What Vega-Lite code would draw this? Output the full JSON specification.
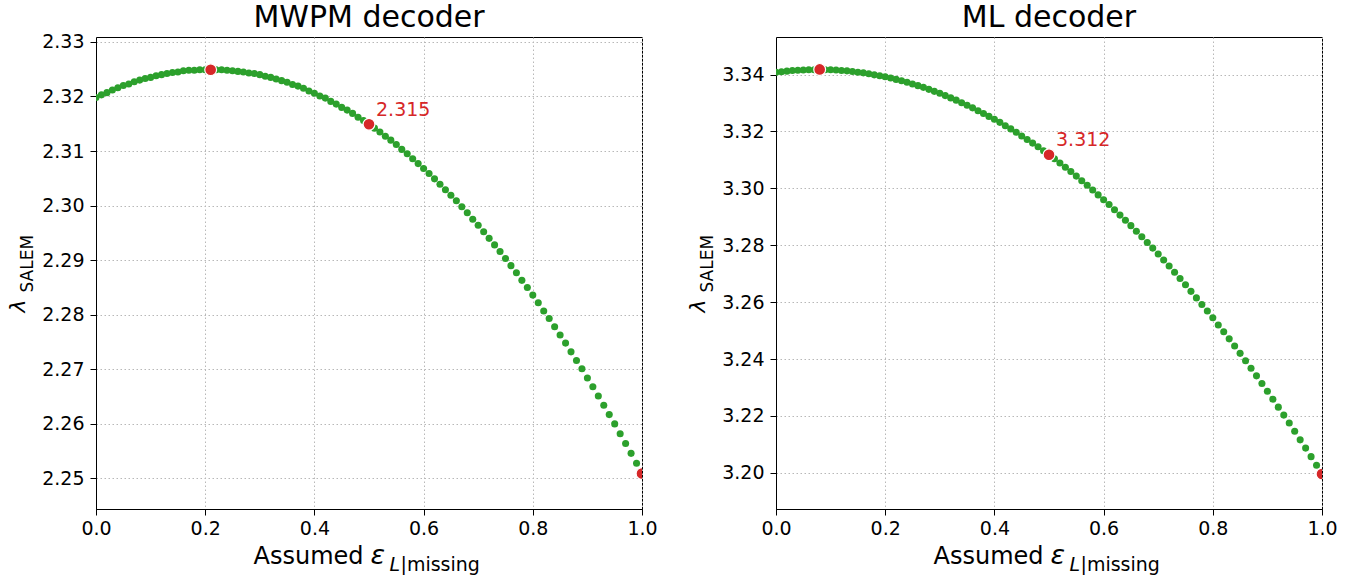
{
  "$schema": "https://vega.github.io/schema/vega-lite/v6.json",
  "padding": {"left": 5, "top": 2, "right": 5, "bottom": 0},
  "spacing": 27,
  "background": "white",
  "datasets": {
    "mwpm": [
      {"e":0,"l":2.3198},{"e":0.01,"l":2.3203},{"e":0.02,"l":2.3207},{"e":0.03,"l":2.3212},{"e":0.04,"l":2.3216},{"e":0.05,"l":2.322},{"e":0.06,"l":2.3223},{"e":0.07,"l":2.3227},{"e":0.08,"l":2.323},{"e":0.09,"l":2.3233},
      {"e":0.1,"l":2.3235},{"e":0.11,"l":2.3238},{"e":0.12,"l":2.324},{"e":0.13,"l":2.3242},{"e":0.14,"l":2.3244},{"e":0.15,"l":2.3245},{"e":0.16,"l":2.3247},{"e":0.17,"l":2.3248},{"e":0.18,"l":2.3248},{"e":0.19,"l":2.3249},
      {"e":0.2,"l":2.3249},{"e":0.21,"l":2.3249},{"e":0.22,"l":2.3249},{"e":0.23,"l":2.3249},{"e":0.24,"l":2.3248},{"e":0.25,"l":2.3247},{"e":0.26,"l":2.3246},{"e":0.27,"l":2.3245},{"e":0.28,"l":2.3243},{"e":0.29,"l":2.3242},
      {"e":0.3,"l":2.324},{"e":0.31,"l":2.3237},{"e":0.32,"l":2.3235},{"e":0.33,"l":2.3232},{"e":0.34,"l":2.3229},{"e":0.35,"l":2.3226},{"e":0.36,"l":2.3222},{"e":0.37,"l":2.3219},{"e":0.38,"l":2.3215},{"e":0.39,"l":2.321},
      {"e":0.4,"l":2.3206},{"e":0.41,"l":2.3201},{"e":0.42,"l":2.3197},{"e":0.43,"l":2.3191},{"e":0.44,"l":2.3186},{"e":0.45,"l":2.318},{"e":0.46,"l":2.3175},{"e":0.47,"l":2.3169},{"e":0.48,"l":2.3162},{"e":0.49,"l":2.3156},
      {"e":0.5,"l":2.3149},{"e":0.51,"l":2.3142},{"e":0.52,"l":2.3135},{"e":0.53,"l":2.3127},{"e":0.54,"l":2.312},{"e":0.55,"l":2.3112},{"e":0.56,"l":2.3103},{"e":0.57,"l":2.3095},{"e":0.58,"l":2.3086},{"e":0.59,"l":2.3077},
      {"e":0.6,"l":2.3068},{"e":0.61,"l":2.3059},{"e":0.62,"l":2.3049},{"e":0.63,"l":2.3039},{"e":0.64,"l":2.3029},{"e":0.65,"l":2.3019},{"e":0.66,"l":2.3009},{"e":0.67,"l":2.2998},{"e":0.68,"l":2.2987},{"e":0.69,"l":2.2975},
      {"e":0.7,"l":2.2964},{"e":0.71,"l":2.2952},{"e":0.72,"l":2.294},{"e":0.73,"l":2.2928},{"e":0.74,"l":2.2916},{"e":0.75,"l":2.2903},{"e":0.76,"l":2.289},{"e":0.77,"l":2.2877},{"e":0.78,"l":2.2863},{"e":0.79,"l":2.285},
      {"e":0.8,"l":2.2836},{"e":0.81,"l":2.2822},{"e":0.82,"l":2.2807},{"e":0.83,"l":2.2793},{"e":0.84,"l":2.2778},{"e":0.85,"l":2.2763},{"e":0.86,"l":2.2748},{"e":0.87,"l":2.2732},{"e":0.88,"l":2.2716},{"e":0.89,"l":2.2701},
      {"e":0.9,"l":2.2684},{"e":0.91,"l":2.2668},{"e":0.92,"l":2.2651},{"e":0.93,"l":2.2634},{"e":0.94,"l":2.2617},{"e":0.95,"l":2.26},{"e":0.96,"l":2.2582},{"e":0.97,"l":2.2564},{"e":0.98,"l":2.2546},{"e":0.99,"l":2.2528},
      {"e":1,"l":2.2509}
    ],
    "mwpm_red": [{"e":0.21,"l":2.3249},{"e":0.5,"l":2.3149},{"e":1,"l":2.2509}],
    "mwpm_label": [{"e":0.5,"l":2.3149,"label":"2.315"}],
    "ml": [
      {"e":0,"l":3.3408},{"e":0.01,"l":3.341},{"e":0.02,"l":3.3412},{"e":0.03,"l":3.3414},{"e":0.04,"l":3.3415},{"e":0.05,"l":3.3416},{"e":0.06,"l":3.3417},{"e":0.07,"l":3.3417},{"e":0.08,"l":3.3418},{"e":0.09,"l":3.3417},
      {"e":0.1,"l":3.3417},{"e":0.11,"l":3.3416},{"e":0.12,"l":3.3414},{"e":0.13,"l":3.3413},{"e":0.14,"l":3.3411},{"e":0.15,"l":3.3408},{"e":0.16,"l":3.3406},{"e":0.17,"l":3.3403},{"e":0.18,"l":3.3399},{"e":0.19,"l":3.3396},
      {"e":0.2,"l":3.3392},{"e":0.21,"l":3.3388},{"e":0.22,"l":3.3383},{"e":0.23,"l":3.3378},{"e":0.24,"l":3.3373},{"e":0.25,"l":3.3367},{"e":0.26,"l":3.3361},{"e":0.27,"l":3.3355},{"e":0.28,"l":3.3348},{"e":0.29,"l":3.3341},
      {"e":0.3,"l":3.3334},{"e":0.31,"l":3.3326},{"e":0.32,"l":3.3318},{"e":0.33,"l":3.331},{"e":0.34,"l":3.3301},{"e":0.35,"l":3.3292},{"e":0.36,"l":3.3283},{"e":0.37,"l":3.3273},{"e":0.38,"l":3.3263},{"e":0.39,"l":3.3253},
      {"e":0.4,"l":3.3243},{"e":0.41,"l":3.3232},{"e":0.42,"l":3.322},{"e":0.43,"l":3.3209},{"e":0.44,"l":3.3197},{"e":0.45,"l":3.3184},{"e":0.46,"l":3.3172},{"e":0.47,"l":3.3159},{"e":0.48,"l":3.3146},{"e":0.49,"l":3.3132},
      {"e":0.5,"l":3.3118},{"e":0.51,"l":3.3104},{"e":0.52,"l":3.3089},{"e":0.53,"l":3.3074},{"e":0.54,"l":3.3059},{"e":0.55,"l":3.3043},{"e":0.56,"l":3.3027},{"e":0.57,"l":3.3011},{"e":0.58,"l":3.2994},{"e":0.59,"l":3.2977},
      {"e":0.6,"l":3.296},{"e":0.61,"l":3.2943},{"e":0.62,"l":3.2925},{"e":0.63,"l":3.2906},{"e":0.64,"l":3.2888},{"e":0.65,"l":3.2869},{"e":0.66,"l":3.2849},{"e":0.67,"l":3.283},{"e":0.68,"l":3.281},{"e":0.69,"l":3.279},
      {"e":0.7,"l":3.2769},{"e":0.71,"l":3.2748},{"e":0.72,"l":3.2727},{"e":0.73,"l":3.2705},{"e":0.74,"l":3.2683},{"e":0.75,"l":3.2661},{"e":0.76,"l":3.2638},{"e":0.77,"l":3.2615},{"e":0.78,"l":3.2592},{"e":0.79,"l":3.2569},
      {"e":0.8,"l":3.2545},{"e":0.81,"l":3.252},{"e":0.82,"l":3.2496},{"e":0.83,"l":3.2471},{"e":0.84,"l":3.2446},{"e":0.85,"l":3.242},{"e":0.86,"l":3.2394},{"e":0.87,"l":3.2368},{"e":0.88,"l":3.2341},{"e":0.89,"l":3.2314},
      {"e":0.9,"l":3.2287},{"e":0.91,"l":3.2259},{"e":0.92,"l":3.2231},{"e":0.93,"l":3.2203},{"e":0.94,"l":3.2175},{"e":0.95,"l":3.2146},{"e":0.96,"l":3.2116},{"e":0.97,"l":3.2087},{"e":0.98,"l":3.2057},{"e":0.99,"l":3.2027},
      {"e":1,"l":3.1996}
    ],
    "ml_red": [{"e":0.08,"l":3.3418},{"e":0.5,"l":3.3118},{"e":1,"l":3.1996}],
    "ml_label": [{"e":0.5,"l":3.3118,"label":"3.312"}]
  },
  "hconcat": [
    {
      "width": 546,
      "height": 472,
      "title": {"text": "MWPM decoder", "offset": 0},
      "layer": [
        {
          "layer": [
            {
              "data": {"name": "mwpm"},
              "mark": {"type": "point", "filled": true, "color": "#2ca02c", "size": 50, "opacity": 1, "clip": true},
              "encoding": {
                "x": {"field": "e", "type": "quantitative", "scale": {"domain": [0, 1], "nice": false, "zero": false},
                      "axis": {"values": [0, 0.2, 0.4, 0.6, 0.8, 1], "format": ".1f", "title": "Assumed", "titleX": 157, "titleY": 54, "titleAlign": "left", "titleBaseline": "alphabetic", "titleAnchor": null}},
                "y": {"field": "l", "type": "quantitative", "scale": {"domain": [2.2444, 2.3309], "nice": false, "zero": false},
                      "axis": {"values": [2.25, 2.26, 2.27, 2.28, 2.29, 2.3, 2.31, 2.32, 2.33], "format": ".2f", "title": "λ", "titleFontSize": 22, "titleFontStyle": "italic", "titleX": -72, "titleY": 275, "titleAlign": "left", "titleBaseline": "alphabetic", "titleAngle": 270, "titleAnchor": null}}
              }
            },
            {
              "data": {"name": "mwpm_red"},
              "mark": {"type": "point", "filled": true, "color": "#d62728", "size": 140, "stroke": "white", "strokeWidth": 1.2, "opacity": 1, "clip": true},
              "encoding": {
                "x": {"field": "e", "type": "quantitative"},
                "y": {"field": "l", "type": "quantitative"}
              }
            },
            {
              "data": {"name": "mwpm_label"},
              "mark": {"type": "text", "color": "#d62728", "fontSize": 19, "align": "left", "baseline": "alphabetic", "dx": 7, "dy": -8},
              "encoding": {
                "x": {"field": "e", "type": "quantitative"},
                "y": {"field": "l", "type": "quantitative"},
                "text": {"field": "label"}
              }
            }
          ]
        },
        {
          "data": {"name": "mwpm_label"},
          "mark": {"type": "point", "opacity": 0},
          "encoding": {
            "x": {"field": "e", "type": "quantitative", "scale": {"domain": [0, 1], "nice": false, "zero": false},
                  "axis": {"orient": "bottom", "labels": false, "ticks": false, "domain": false, "grid": false, "title": "ε", "titleFontSize": 27, "titleFontStyle": "italic", "titleX": 274, "titleY": 54, "titleAlign": "left", "titleBaseline": "alphabetic", "titleAnchor": null}},
            "y": {"field": "l", "type": "quantitative", "scale": {"domain": [2.2444, 2.3309], "nice": false, "zero": false},
                  "axis": {"orient": "left", "labels": false, "ticks": false, "domain": false, "grid": false, "title": "SALEM", "titleFontSize": 17, "titleX": -64, "titleY": 255, "titleAlign": "left", "titleBaseline": "alphabetic", "titleAngle": 270, "titleAnchor": null}}
          }
        },
        {
          "data": {"name": "mwpm_label"},
          "mark": {"type": "point", "opacity": 0},
          "encoding": {
            "x": {"field": "e", "type": "quantitative", "scale": {"domain": [0, 1], "nice": false, "zero": false},
                  "axis": {"orient": "bottom", "labels": false, "ticks": false, "domain": false, "grid": false, "title": "L", "titleFontSize": 19, "titleFontStyle": "italic", "titleX": 293, "titleY": 61, "titleAlign": "left", "titleBaseline": "alphabetic", "titleAnchor": null}},
            "y": {"field": "l", "type": "quantitative", "scale": {"domain": [2.2444, 2.3309], "nice": false, "zero": false}, "axis": null}
          }
        },
        {
          "data": {"name": "mwpm_label"},
          "mark": {"type": "point", "opacity": 0},
          "encoding": {
            "x": {"field": "e", "type": "quantitative", "scale": {"domain": [0, 1], "nice": false, "zero": false},
                  "axis": {"orient": "bottom", "labels": false, "ticks": false, "domain": false, "grid": false, "title": "|missing", "titleFontSize": 19, "titleX": 304, "titleY": 61, "titleAlign": "left", "titleBaseline": "alphabetic", "titleAnchor": null}},
            "y": {"field": "l", "type": "quantitative", "scale": {"domain": [2.2444, 2.3309], "nice": false, "zero": false}, "axis": null}
          }
        }
      ],
      "resolve": {"scale": {"x": "independent", "y": "independent"}}
    },
    {
      "width": 546,
      "height": 472,
      "title": {"text": "ML decoder", "offset": 4},
      "layer": [
        {
          "layer": [
            {
              "data": {"name": "ml"},
              "mark": {"type": "point", "filled": true, "color": "#2ca02c", "size": 50, "opacity": 1, "clip": true},
              "encoding": {
                "x": {"field": "e", "type": "quantitative", "scale": {"domain": [0, 1], "nice": false, "zero": false},
                      "axis": {"values": [0, 0.2, 0.4, 0.6, 0.8, 1], "format": ".1f", "title": "Assumed", "titleX": 157, "titleY": 54, "titleAlign": "left", "titleBaseline": "alphabetic", "titleAnchor": null}},
                "y": {"field": "l", "type": "quantitative", "scale": {"domain": [3.1873, 3.3532], "nice": false, "zero": false},
                      "axis": {"values": [3.2, 3.22, 3.24, 3.26, 3.28, 3.3, 3.32, 3.34], "format": ".2f", "title": "λ", "titleFontSize": 22, "titleFontStyle": "italic", "titleX": -72, "titleY": 275, "titleAlign": "left", "titleBaseline": "alphabetic", "titleAngle": 270, "titleAnchor": null}}
              }
            },
            {
              "data": {"name": "ml_red"},
              "mark": {"type": "point", "filled": true, "color": "#d62728", "size": 140, "stroke": "white", "strokeWidth": 1.2, "opacity": 1, "clip": true},
              "encoding": {
                "x": {"field": "e", "type": "quantitative"},
                "y": {"field": "l", "type": "quantitative"}
              }
            },
            {
              "data": {"name": "ml_label"},
              "mark": {"type": "text", "color": "#d62728", "fontSize": 19, "align": "left", "baseline": "alphabetic", "dx": 7, "dy": -9},
              "encoding": {
                "x": {"field": "e", "type": "quantitative"},
                "y": {"field": "l", "type": "quantitative"},
                "text": {"field": "label"}
              }
            }
          ]
        },
        {
          "data": {"name": "ml_label"},
          "mark": {"type": "point", "opacity": 0},
          "encoding": {
            "x": {"field": "e", "type": "quantitative", "scale": {"domain": [0, 1], "nice": false, "zero": false},
                  "axis": {"orient": "bottom", "labels": false, "ticks": false, "domain": false, "grid": false, "title": "ε", "titleFontSize": 27, "titleFontStyle": "italic", "titleX": 274, "titleY": 54, "titleAlign": "left", "titleBaseline": "alphabetic", "titleAnchor": null}},
            "y": {"field": "l", "type": "quantitative", "scale": {"domain": [3.1873, 3.3532], "nice": false, "zero": false},
                  "axis": {"orient": "left", "labels": false, "ticks": false, "domain": false, "grid": false, "title": "SALEM", "titleFontSize": 17, "titleX": -64, "titleY": 255, "titleAlign": "left", "titleBaseline": "alphabetic", "titleAngle": 270, "titleAnchor": null}}
          }
        },
        {
          "data": {"name": "ml_label"},
          "mark": {"type": "point", "opacity": 0},
          "encoding": {
            "x": {"field": "e", "type": "quantitative", "scale": {"domain": [0, 1], "nice": false, "zero": false},
                  "axis": {"orient": "bottom", "labels": false, "ticks": false, "domain": false, "grid": false, "title": "L", "titleFontSize": 19, "titleFontStyle": "italic", "titleX": 293, "titleY": 61, "titleAlign": "left", "titleBaseline": "alphabetic", "titleAnchor": null}},
            "y": {"field": "l", "type": "quantitative", "scale": {"domain": [3.1873, 3.3532], "nice": false, "zero": false}, "axis": null}
          }
        },
        {
          "data": {"name": "ml_label"},
          "mark": {"type": "point", "opacity": 0},
          "encoding": {
            "x": {"field": "e", "type": "quantitative", "scale": {"domain": [0, 1], "nice": false, "zero": false},
                  "axis": {"orient": "bottom", "labels": false, "ticks": false, "domain": false, "grid": false, "title": "|missing", "titleFontSize": 19, "titleX": 304, "titleY": 61, "titleAlign": "left", "titleBaseline": "alphabetic", "titleAnchor": null}},
            "y": {"field": "l", "type": "quantitative", "scale": {"domain": [3.1873, 3.3532], "nice": false, "zero": false}, "axis": null}
          }
        }
      ],
      "resolve": {"scale": {"x": "independent", "y": "independent"}}
    }
  ],
  "config": {
    "font": "DejaVu Sans",
    "view": {"stroke": "black", "strokeWidth": 1},
    "axis": {
      "labelFont": "DejaVu Sans", "labelFontSize": 19, "labelColor": "black",
      "tickColor": "black", "tickSize": 6, "tickWidth": 1,
      "domainColor": "black", "domainWidth": 1,
      "gridColor": "#b8b8b8", "gridDash": [1.5, 2.5], "gridWidth": 1,
      "titleFont": "DejaVu Sans", "titleFontSize": 24, "titleFontWeight": "normal", "titleColor": "black",
      "labelFlush": false, "labelOverlap": false
    },
    "axisX": {"labelPadding": 4},
    "axisY": {"labelPadding": 6},
    "title": {"font": "DejaVu Sans", "fontSize": 30, "fontWeight": "normal", "color": "black", "anchor": "middle"}
  }
}
